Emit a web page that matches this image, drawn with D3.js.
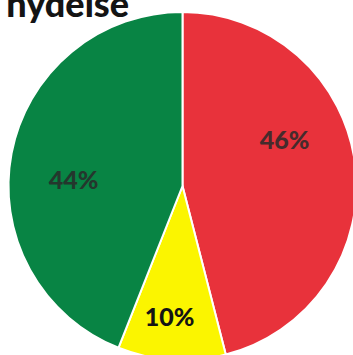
<!DOCTYPE html>
<html>
<head>
<meta charset="utf-8">
<script src="https://cdn.jsdelivr.net/npm/d3@7"></script>
<style>
  html, body { margin: 0; padding: 0; background: #fff; overflow: hidden; }
  svg { display: block; }
</style>
</head>
<body>
<svg id="chart" width="353" height="355"></svg>
<script>
// chart data
const categories = ["Misfornøyd", "Nøytral", "Fornøyd"];
const shares = [46, 10, 44];
const sliceColors = ["#e8323b", "#fbf500", "#088444"];
const titleText = "nydelse";

// label tweaks (layout only, not data): extra angle (deg) and radius for each label
const labelAdjust = [
    {da: -17, r: 112},
    {da: 2, r: 132},
    {da: -8, r: 109}
];

const W = 353, H = 355;
const cx = 182.5, cy = 186, radius = 174;

const svg = d3.select("#chart");

// title is cropped at the top edge in the source picture
svg.append("text")
    .attr("x", 129)
    .attr("y", 17)
    .attr("text-anchor", "end")
    .style("font-family", "Lato, 'Open Sans', sans-serif")
    .style("font-weight", "900")
    .style("font-size", "36px")
    .style("fill", "#141414")
    .text(titleText);

const pie = d3.pie().sort(null).value(d => d.v);
const arcs = pie(shares.map((v, i) => ({v: v, name: categories[i], i: i})));

const arc = d3.arc().innerRadius(0).outerRadius(radius);

const g = svg.append("g").attr("transform", "translate(" + cx + "," + cy + ")");

g.selectAll("path.slice")
    .data(arcs)
    .join("path")
    .attr("class", "slice")
    .attr("d", arc)
    .attr("fill", d => sliceColors[d.data.i])
    .attr("stroke", "#fff")
    .attr("stroke-width", 2)
    .attr("stroke-linejoin", "round");

g.selectAll("text.lbl")
    .data(arcs)
    .join("text")
    .attr("class", "lbl")
    .attr("transform", d => {
        const adj = labelAdjust[d.data.i];
        const a = (d.startAngle + d.endAngle) / 2 + adj.da * Math.PI / 180;
        return "translate(" + (Math.sin(a) * adj.r) + "," + (-Math.cos(a) * adj.r) + ")";
    })
    .attr("text-anchor", "middle")
    .attr("dy", "0.35em")
    .style("font-family", "Lato, 'Open Sans', sans-serif")
    .style("font-weight", "900")
    .style("font-size", "25px")
    .style("fill", d => d.data.i === 1 ? "#141414" : "#2a2a2a")
    .style("opacity", d => d.data.i === 1 ? 1 : 0.85)
    .text(d => d.data.v + "%");
</script>
</body>
</html>
